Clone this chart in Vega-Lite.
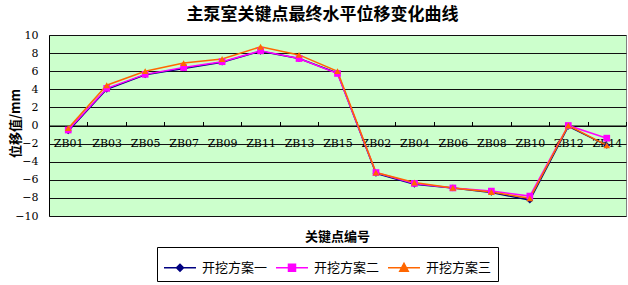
{
  "$schema": "https://vega.github.io/schema/vega-lite/v6.json",
  "autosize": "none",
  "width": 577,
  "height": 181,
  "padding": {"left": 49, "top": 35, "right": 2, "bottom": 69},
  "background": "white",
  "title": {
    "text": "主泵室关键点最终水平位移变化曲线",
    "font": "Noto Sans CJK SC",
    "fontSize": 17,
    "fontWeight": "bold",
    "color": "black",
    "anchor": "middle",
    "dx": -15,
    "offset": 5
  },
  "data": {
    "values": [
      {"id": "ZB01", "s": "开挖方案一", "v": -0.6},
      {"id": "ZB03", "s": "开挖方案一", "v": 4.0},
      {"id": "ZB05", "s": "开挖方案一", "v": 5.6},
      {"id": "ZB07", "s": "开挖方案一", "v": 6.3},
      {"id": "ZB09", "s": "开挖方案一", "v": 7.0},
      {"id": "ZB11", "s": "开挖方案一", "v": 8.2},
      {"id": "ZB13", "s": "开挖方案一", "v": 7.4},
      {"id": "ZB15", "s": "开挖方案一", "v": 5.8},
      {"id": "ZB02", "s": "开挖方案一", "v": -5.3},
      {"id": "ZB04", "s": "开挖方案一", "v": -6.5},
      {"id": "ZB06", "s": "开挖方案一", "v": -6.9},
      {"id": "ZB08", "s": "开挖方案一", "v": -7.4},
      {"id": "ZB10", "s": "开挖方案一", "v": -8.25},
      {"id": "ZB12", "s": "开挖方案一", "v": -0.1},
      {"id": "ZB14", "s": "开挖方案一", "v": -2.2},
      {"id": "ZB01", "s": "开挖方案二", "v": -0.5},
      {"id": "ZB03", "s": "开挖方案二", "v": 4.1},
      {"id": "ZB05", "s": "开挖方案二", "v": 5.65},
      {"id": "ZB07", "s": "开挖方案二", "v": 6.4},
      {"id": "ZB09", "s": "开挖方案二", "v": 7.05},
      {"id": "ZB11", "s": "开挖方案二", "v": 8.25},
      {"id": "ZB13", "s": "开挖方案二", "v": 7.4},
      {"id": "ZB15", "s": "开挖方案二", "v": 5.75},
      {"id": "ZB02", "s": "开挖方案二", "v": -5.2},
      {"id": "ZB04", "s": "开挖方案二", "v": -6.4},
      {"id": "ZB06", "s": "开挖方案二", "v": -6.9},
      {"id": "ZB08", "s": "开挖方案二", "v": -7.25},
      {"id": "ZB10", "s": "开挖方案二", "v": -7.8},
      {"id": "ZB12", "s": "开挖方案二", "v": 0.0},
      {"id": "ZB14", "s": "开挖方案二", "v": -1.4},
      {"id": "ZB01", "s": "开挖方案三", "v": -0.3},
      {"id": "ZB03", "s": "开挖方案三", "v": 4.45},
      {"id": "ZB05", "s": "开挖方案三", "v": 6.0},
      {"id": "ZB07", "s": "开挖方案三", "v": 6.9},
      {"id": "ZB09", "s": "开挖方案三", "v": 7.35},
      {"id": "ZB11", "s": "开挖方案三", "v": 8.7},
      {"id": "ZB13", "s": "开挖方案三", "v": 7.8},
      {"id": "ZB15", "s": "开挖方案三", "v": 6.0},
      {"id": "ZB02", "s": "开挖方案三", "v": -5.2},
      {"id": "ZB04", "s": "开挖方案三", "v": -6.3},
      {"id": "ZB06", "s": "开挖方案三", "v": -6.9},
      {"id": "ZB08", "s": "开挖方案三", "v": -7.35},
      {"id": "ZB10", "s": "开挖方案三", "v": -8.05},
      {"id": "ZB12", "s": "开挖方案三", "v": 0.0},
      {"id": "ZB14", "s": "开挖方案三", "v": -2.2}
    ]
  },
  "encoding": {
    "x": {
      "field": "id",
      "type": "nominal",
      "sort": null,
      "scale": {"type": "band", "paddingInner": 0, "paddingOuter": 0},
      "axis": {
        "orient": "bottom",
        "offset": -90.5,
        "title": "关键点编号",
        "titleFont": "Noto Sans CJK SC",
        "titleFontSize": 13,
        "titleFontWeight": "bold",
        "titleColor": "black",
        "titleX": 288,
        "titleY": 110.5,
        "titleBaseline": "middle",
        "titleAlign": "center",
        "labelAngle": 0,
        "labelFont": "DejaVu Serif",
        "labelFontSize": 11,
        "labelColor": "black",
        "labelBaseline": "middle",
        "labelPadding": 22,
        "tickBand": "extent",
        "tickSize": -4,
        "tickColor": "black",
        "domainColor": "black",
        "grid": false
      }
    },
    "y": {
      "field": "v",
      "type": "quantitative",
      "scale": {"domain": [-10, 10], "nice": false, "zero": false},
      "axis": {
        "values": [-10, -8, -6, -4, -2, 0, 2, 4, 6, 8, 10],
        "title": "位移值/mm",
        "titleFont": "Noto Sans CJK SC",
        "titleFontSize": 13,
        "titleFontWeight": "bold",
        "titleColor": "black",
        "titleAngle": -90,
        "titleX": -34,
        "titleY": 88,
        "titleAlign": "center",
        "titleBaseline": "middle",
        "labelFont": "DejaVu Serif",
        "labelFontSize": 11,
        "labelColor": "black",
        "labelPadding": 11,
        "ticks": false,
        "domainColor": "black",
        "gridColor": "#111111",
        "gridOpacity": 1
      }
    }
  },
  "layer": [
    {
      "mark": {"type": "line", "strokeWidth": 1.5},
      "encoding": {
        "color": {
          "field": "s",
          "type": "nominal",
          "sort": ["开挖方案一", "开挖方案二", "开挖方案三"],
          "scale": {"domain": ["开挖方案一", "开挖方案二", "开挖方案三"], "range": ["#000080", "#FF00FF", "#FF6600"]},
          "legend": {
            "title": null,
            "orient": "none",
            "legendX": 108,
            "legendY": 212,
            "direction": "horizontal",
            "labelFont": "Noto Sans CJK SC",
            "labelFontSize": 13,
            "labelColor": "black",
            "symbolSize": 729,
            "labelOffset": 10,
            "columnPadding": 5,
            "padding": 6,
            "strokeColor": "black",
            "fillColor": "white",
            "symbolStrokeWidth": 1.5,
            "encoding": {
              "symbols": {
                "shape": {"value": {"expr": "datum.value === '开挖方案一' ? 'M-1,0H1.37M0.185,-0.26L0.445,0L0.185,0.26L-0.075,0Z' : datum.value === '开挖方案二' ? 'M-1,0H1.37M-0.075,-0.26H0.445V0.26H-0.075Z' : 'M-1,0H1.37M0.185,-0.33L0.5,0.26H-0.13Z'"}},
                "fill": {"value": {"expr": "scale('color', datum.value)"}},
                "strokeWidth": {"value": 1.5},
                "opacity": {"value": 1}
              }
            }
          }
        }
      }
    },
    {
      "mark": {"type": "point", "filled": true, "opacity": 1},
      "encoding": {
        "color": {"field": "s", "type": "nominal", "legend": null},
        "shape": {
          "field": "s",
          "type": "nominal",
          "scale": {"domain": ["开挖方案三", "开挖方案一", "开挖方案二"], "range": ["triangle-up", "diamond", "square"]},
          "legend": null
        },
        "size": {"value": 45}
      }
    }
  ],
  "config": {
    "view": {"stroke": "#808080", "fill": "#CCFFCC"},
    "axis": {"gridWidth": 1}
  }
}
